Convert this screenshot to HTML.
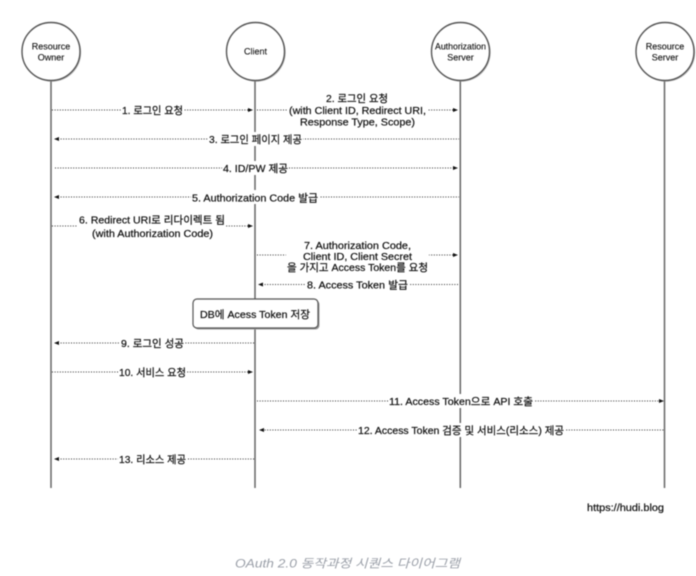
<!DOCTYPE html>
<html><head><meta charset="utf-8"><style>
html,body{margin:0;padding:0;background:#fff;width:696px;height:576px;overflow:hidden}
svg{display:block;filter:blur(.5px)}
text{font-family:"Liberation Sans","Noto Sans CJK KR",sans-serif;font-size:10.5px;fill:#111;stroke:#111;stroke-width:.22px}
.c{text-anchor:middle;font-size:9px;stroke-width:.12px}
.l{stroke:#666;stroke-width:1.5;fill:none}
.d{stroke:#333;stroke-width:1.1;stroke-dasharray:1 1.6;fill:none}
.a{fill:#111}
.o{fill:#fff;stroke:#555;stroke-width:1.4}
</style></head><body>
<svg width="696" height="576" viewBox="0 0 696 576" xmlns="http://www.w3.org/2000/svg">
<rect width="696" height="576" fill="#fff"/>
<!-- lifelines -->
<path class="l" d="M51 81V488M255 81V488M460.3 81V488M664.5 81V488"/>
<!-- actors -->
<g fill="#aaa" opacity=".8"><circle cx="52" cy="52.5" r="29.2"/><circle cx="256.5" cy="52.5" r="29.2"/><circle cx="461.5" cy="52.5" r="29.2"/><circle cx="666" cy="52.5" r="29.2"/></g>
<circle class="o" cx="51" cy="51.5" r="29"/><circle class="o" cx="255.5" cy="51.5" r="29"/><circle class="o" cx="460.5" cy="51.5" r="29"/><circle class="o" cx="665" cy="51.5" r="29"/>
<text class="c" x="51" y="49.5">Resource</text><text class="c" x="51" y="60.5">Owner</text>
<text class="c" x="255.5" y="54.5">Client</text>
<text class="c" x="460.5" y="49.5" textLength="51" lengthAdjust="spacingAndGlyphs">Authorization</text><text class="c" x="460.5" y="60.5">Server</text>
<text class="c" x="665" y="49.5">Resource</text><text class="c" x="665" y="60.5">Server</text>
<!-- dotted lines -->
<path class="d" d="M52 110H250M257 110H455M58 139H459M55 168H455M58 197H459M52 226H250M257 255H455M262 284.5H459M58 343H254M52 372H250M257 401H661M262 430H664M58 459H254"/>
<!-- arrowheads -->
<path class="a" d="M253 110l-5-2v4zM458 110l-5-2v4zM54 139l5-2v4zM458 168l-5-2v4zM54 197l5-2v4zM253 226l-5-2v4zM458 255l-5-2v4zM258 284.5l5-2v4zM54 343l5-2v4zM253 372l-5-2v4zM664 401l-5-2v4zM259 430l5-2v4zM54 459l5-2v4z"/>
<!-- label backgrounds -->
<g fill="#fff">
<rect x="121" y="103" width="63" height="14"/><rect x="288" y="92" width="139" height="36"/><rect x="208" y="132" width="95" height="14"/><rect x="222" y="161" width="67" height="14"/><rect x="191" y="190" width="128" height="14"/><rect x="78" y="213" width="148" height="26"/><rect x="286" y="239" width="143" height="33"/><rect x="306" y="278" width="103" height="13"/><rect x="120" y="336" width="65" height="14"/><rect x="118" y="365" width="69" height="14"/><rect x="388" y="394" width="146" height="14"/><rect x="357" y="423" width="208" height="14"/><rect x="118" y="452" width="69" height="14"/>
</g>
<!-- labels -->
<text x="122" y="114" textLength="61" lengthAdjust="spacingAndGlyphs">1. 로그인 요청</text>
<text x="326" y="102" textLength="62" lengthAdjust="spacingAndGlyphs">2. 로그인 요청</text>
<text x="289" y="114" textLength="137" lengthAdjust="spacingAndGlyphs">(with Client ID, Redirect URI,</text>
<text x="300" y="125.5" textLength="115" lengthAdjust="spacingAndGlyphs">Response Type, Scope)</text>
<text x="209" y="143" textLength="93" lengthAdjust="spacingAndGlyphs">3. 로그인 페이지 제공</text>
<text x="223" y="172" textLength="65" lengthAdjust="spacingAndGlyphs">4. ID/PW 제공</text>
<text x="192" y="201.5" textLength="126" lengthAdjust="spacingAndGlyphs">5. Authorization Code 발급</text>
<text x="79" y="223.5" textLength="146" lengthAdjust="spacingAndGlyphs">6. Redirect URI로 리다이렉트 됨</text>
<text x="92" y="237" textLength="121" lengthAdjust="spacingAndGlyphs">(with Authorization Code)</text>
<text x="304" y="249" textLength="107" lengthAdjust="spacingAndGlyphs">7. Authorization Code,</text>
<text x="303" y="260" textLength="109" lengthAdjust="spacingAndGlyphs">Client ID, Client Secret</text>
<text x="287" y="271" textLength="141" lengthAdjust="spacingAndGlyphs">을 가지고 Access Token를 요청</text>
<text x="307" y="288.5" textLength="101" lengthAdjust="spacingAndGlyphs">8. Access Token 발급</text>
<text x="121" y="347" textLength="63" lengthAdjust="spacingAndGlyphs">9. 로그인 성공</text>
<text x="119" y="376" textLength="67" lengthAdjust="spacingAndGlyphs">10. 서비스 요청</text>
<text x="389" y="405" textLength="144" lengthAdjust="spacingAndGlyphs">11. Access Token으로 API 호출</text>
<text x="358" y="434" textLength="206" lengthAdjust="spacingAndGlyphs">12. Access Token 검증 및 서비스(리소스) 제공</text>
<text x="119" y="463" textLength="67" lengthAdjust="spacingAndGlyphs">13. 리소스 제공</text>
<!-- note -->
<rect x="194.5" y="300.5" width="125" height="29" rx="4" fill="#999"/>
<rect x="193" y="299" width="125" height="29" rx="4" fill="#fff" stroke="#555" stroke-width="1.2"/>
<text x="200" y="318" textLength="110" lengthAdjust="spacingAndGlyphs">DB에 Acess Token 저장</text>
<text x="587" y="511" textLength="77" lengthAdjust="spacingAndGlyphs">https://hudi.blog</text>
<text x="235" y="567.5" textLength="225" lengthAdjust="spacingAndGlyphs" style="font-size:12px;font-style:italic;fill:#9a9fa8;stroke:none">OAuth 2.0 동작과정 시퀀스 다이어그램</text>
</svg>
</body></html>
